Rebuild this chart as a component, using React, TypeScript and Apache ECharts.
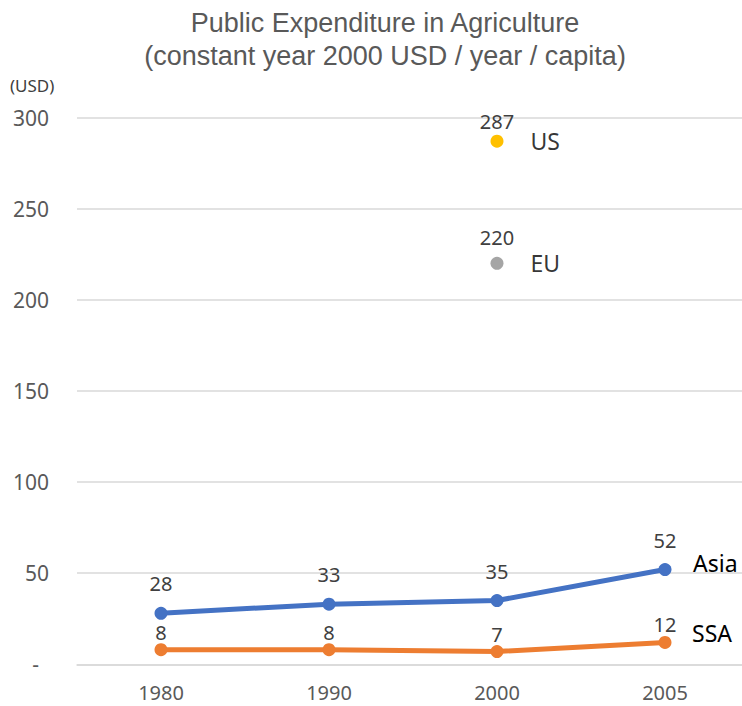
import React, { useEffect, useRef } from "react";
import * as echarts from "echarts";

const categories = ["1980", "1990", "2000", "2005"];
const asiaValues = [28, 33, 35, 52];
const ssaValues = [8, 8, 7, 12];
const usValues = [null, null, 287, null];
const euValues = [null, null, 220, null];
const yTicks = [0, 50, 100, 150, 200, 250, 300];
const titleLines = ["Public Expenditure in Agriculture", "(constant year 2000 USD / year / capita)"];
const unitLabel = "(USD)";

const FONT = "'Noto Sans', sans-serif";
const VALUE_COLOR = "#404040";
const AXIS_COLOR = "#595959";
const GRID_COLOR = "#D9D9D9";

export default function App() {
  const ref = useRef<HTMLDivElement>(null);
  useEffect(() => {
    document.body.style.margin = "0";
    if (!ref.current) return;
    const chart = echarts.init(ref.current, undefined, { renderer: "svg" });

    const valueLabel = (distance: number) => ({
      show: true,
      position: "top",
      distance,
      color: VALUE_COLOR,
      fontFamily: FONT,
      fontSize: 20,
    });

    const nameLabel = (name: string, distance: number) => ({
      name: name + "-name",
      type: "scatter",
      data: name === "US" ? usValues : euValues,
      symbolSize: 13,
      itemStyle: { color: "rgba(0,0,0,0)" },
      silent: true,
      label: {
        show: true,
        position: "right",
        distance,
        formatter: () => name,
        color: "#000000",
        fontFamily: FONT,
        fontSize: 23,
      },
      z: 1,
    });

    chart.setOption({
      animation: false,
      grid: { left: 77, right: 0, top: 117.5, bottom: 41.7, containLabel: false },
      graphic: [
        {
          type: "text",
          x: 385,
          y: 6,
          style: {
            text: titleLines.join("\n"),
            fill: AXIS_COLOR,
            font: "27px 'Liberation Sans', Arial, sans-serif",
            lineHeight: 33,
            align: "center",
            verticalAlign: "top",
          },
        },
        {
          type: "text",
          x: 10,
          y: 85,
          style: {
            text: unitLabel,
            fill: VALUE_COLOR,
            font: "17px 'Noto Sans', sans-serif",
            align: "left",
            verticalAlign: "middle",
          },
        },
      ],
      xAxis: {
        type: "category",
        data: categories,
        boundaryGap: true,
        axisLine: { show: true, lineStyle: { color: GRID_COLOR, width: 1.5 } },
        axisTick: { show: false },
        axisLabel: { color: AXIS_COLOR, fontFamily: FONT, fontSize: 20, margin: 18 },
        splitLine: { show: false },
      },
      yAxis: {
        type: "value",
        min: yTicks[0],
        max: yTicks[yTicks.length - 1],
        interval: 50,
        axisLine: { show: false },
        axisTick: { show: false },
        splitLine: { show: true, lineStyle: { color: GRID_COLOR, width: 1.5 } },
        axisLabel: {
          color: AXIS_COLOR,
          fontFamily: FONT,
          fontSize: 21,
          margin: 28,
          formatter: (v: number) => (v === 0 ? "{d|-}" : String(v)),
          rich: { d: { color: AXIS_COLOR, fontFamily: FONT, fontSize: 21, padding: [0, 10, 0, 0] } },
        },
      },
      series: [
        {
          name: "SSA",
          type: "line",
          data: ssaValues,
          symbol: "circle",
          symbolSize: 13,
          showSymbol: true,
          lineStyle: { color: "#ED7D31", width: 5 },
          itemStyle: { color: "#ED7D31" },
          label: valueLabel(1),
          endLabel: {
            show: true,
            formatter: "{a}",
            distance: 27,
            offset: [0, -9],
            color: "#000000",
            fontFamily: FONT,
            fontSize: 23,
          },
          z: 3,
        },
        {
          name: "Asia",
          type: "line",
          data: asiaValues,
          symbol: "circle",
          symbolSize: 13,
          showSymbol: true,
          lineStyle: { color: "#4472C4", width: 5 },
          itemStyle: { color: "#4472C4" },
          label: valueLabel(13),
          endLabel: {
            show: true,
            formatter: "{a}",
            distance: 28,
            offset: [0, -7],
            color: "#000000",
            fontFamily: FONT,
            fontSize: 23,
          },
          z: 4,
        },
        {
          name: "US",
          type: "scatter",
          data: usValues,
          symbolSize: 13,
          itemStyle: { color: "#FFC000", opacity: 1 },
          label: valueLabel(3),
          z: 3,
        },
        {
          name: "EU",
          type: "scatter",
          data: euValues,
          symbolSize: 13,
          itemStyle: { color: "#A5A5A5", opacity: 1 },
          label: valueLabel(9),
          z: 3,
        },
        nameLabel("US", 27),
        nameLabel("EU", 27),
      ],
    });
    return () => chart.dispose();
  }, []);
  return (
    <div style={{ width: 742, height: 706, overflow: "hidden", position: "relative" }}>
      <div ref={ref} style={{ width: 749, height: 706 }} />
    </div>
  );
}
